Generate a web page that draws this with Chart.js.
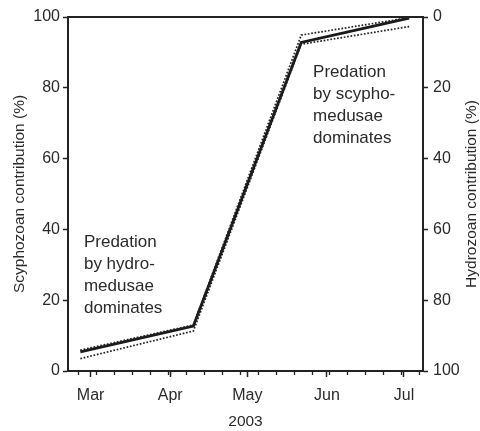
<!DOCTYPE html>
<html>
<head>
<meta charset="utf-8">
<script src="https://cdn.jsdelivr.net/npm/chart.js@4.4.1/dist/chart.umd.min.js"></script>
<style>
  html, body { margin: 0; padding: 0; background: #fff; }
  canvas { display: block; }
</style>
</head>
<body>
<canvas id="contribChart" width="480" height="431"></canvas>
<script>
// Day-of-year (2003, Jan 1 = 0) for month starts and their labels
const months = ['Mar', 'Apr', 'May', 'Jun', 'Jul'];
const monthDays = [59, 90, 120, 151, 181];
// Weekly minor ticks along the time axis
const weekDays = [54, 61, 68, 75, 82, 89, 96, 103, 110, 117, 124, 131, 138, 145, 152, 159, 166, 173, 180, 187];

// Sampling dates and scyphozoan contribution (%)
const sampleDays = [55, 99, 141, 183];
const scyphoMean = [5.4, 12.7, 92.8, 99.7];
const scyphoUpper = [5.9, 13.0, 94.9, 99.8];
const scyphoLower = [3.5, 11.3, 92.3, 97.3];

const yTicks = [0, 20, 40, 60, 80, 100];

const hydroNote = ['Predation', 'by hydro-', 'medusae', 'dominates'];
const scyphoNote = ['Predation', 'by scypho-', 'medusae', 'dominates'];

const FONT = "'Liberation Sans', Arial, Helvetica, sans-serif";
const INK = '#222';
const TEXT = '#2a2a2a';

Chart.defaults.font.family = FONT;
Chart.defaults.font.size = 16;
Chart.defaults.color = TEXT;

function toPoints(values) {
    return sampleDays.map((d, i) => ({ x: d, y: values[i] }));
}

// Frame top edge, weekly ticks, right-hand title and the two notes
const decorations = {
    id: 'decorations',
    afterDraw(chart) {
        const { ctx, chartArea, scales } = chart;
        const x = scales.x;
        const y = scales.y;
        ctx.save();

        ctx.strokeStyle = INK;
        ctx.lineWidth = 2;
        ctx.beginPath();
        ctx.moveTo(chartArea.left - 1, chartArea.top);
        ctx.lineTo(chartArea.right + 1, chartArea.top);
        ctx.stroke();

        ctx.lineWidth = 1.3;
        weekDays.forEach(d => {
            const px = Math.round(x.getPixelForValue(d)) + 0.5;
            ctx.beginPath();
            ctx.moveTo(px, chartArea.bottom);
            ctx.lineTo(px, chartArea.bottom + 4);
            ctx.stroke();
        });

        ctx.fillStyle = TEXT;
        ctx.font = '15.5px ' + FONT;
        ctx.textAlign = 'center';
        ctx.textBaseline = 'middle';
        ctx.translate(472, (chartArea.top + chartArea.bottom) / 2);
        ctx.rotate(-Math.PI / 2);
        ctx.fillText('Hydrozoan contribution (%)', 0, 0);
        ctx.setTransform(1, 0, 0, 1, 0, 0);

        ctx.font = '17px ' + FONT;
        ctx.textAlign = 'left';
        const drawNote = (lines, dx, dy) => {
            const left = x.getPixelForValue(dx);
            const top = y.getPixelForValue(dy);
            lines.forEach((t, i) => ctx.fillText(t, left, top + i * 22));
        };
        drawNote(hydroNote, 56.4, 36.4);
        drawNote(scyphoNote, 145.6, 84.3);

        ctx.restore();
    }
};

const ctx = document.getElementById('contribChart').getContext('2d');

new Chart(ctx, {
    type: 'line',
    data: {
        datasets: [
            {
                data: toPoints(scyphoUpper),
                borderColor: INK,
                borderWidth: 1.7,
                borderDash: [1.7, 1.7],
                pointRadius: 0,
                tension: 0
            },
            {
                data: toPoints(scyphoLower),
                borderColor: INK,
                borderWidth: 1.7,
                borderDash: [1.7, 1.7],
                pointRadius: 0,
                tension: 0
            },
            {
                data: toPoints(scyphoMean),
                borderColor: '#1a1a1a',
                borderWidth: 2.8,
                pointRadius: 0,
                tension: 0
            }
        ]
    },
    options: {
        responsive: false,
        animation: false,
        layout: { padding: { top: 17, left: 0, right: 0, bottom: 0 } },
        plugins: {
            legend: { display: false },
            tooltip: { enabled: false }
        },
        scales: {
            x: {
                type: 'linear',
                min: 50.2,
                max: 188.4,
                afterBuildTicks: scale => {
                    scale.ticks = monthDays.map(v => ({ value: v }));
                },
                afterFit: scale => { scale.height = 60; },
                ticks: {
                    autoSkip: false,
                    maxRotation: 0,
                    padding: 9,
                    callback: (value, index) => months[index]
                },
                grid: {
                    drawOnChartArea: false,
                    tickLength: 6,
                    tickWidth: 1.5,
                    tickColor: INK
                },
                border: { width: 2, color: INK },
                title: {
                    display: true,
                    text: '2003',
                    font: { size: 15.5 },
                    padding: { top: 0, bottom: 0 }
                }
            },
            y: {
                position: 'left',
                min: 0,
                max: 100,
                afterBuildTicks: scale => {
                    scale.ticks = yTicks.map(v => ({ value: v }));
                },
                afterFit: scale => { scale.width = 68; },
                ticks: { padding: 3 },
                grid: {
                    drawOnChartArea: false,
                    tickLength: 5,
                    tickWidth: 1.5,
                    tickColor: INK
                },
                border: { width: 2, color: INK },
                title: {
                    display: true,
                    text: 'Scyphozoan contribution (%)',
                    font: { size: 15.5 },
                    padding: { top: 10, bottom: 0 }
                }
            },
            y2: {
                position: 'right',
                reverse: true,
                min: 0,
                max: 100,
                afterBuildTicks: scale => {
                    scale.ticks = yTicks.map(v => ({ value: v }));
                },
                afterFit: scale => { scale.width = 57; },
                ticks: { padding: 5 },
                grid: {
                    drawOnChartArea: false,
                    tickLength: 5,
                    tickWidth: 1.5,
                    tickColor: INK
                },
                border: { width: 2, color: INK }
            }
        }
    },
    plugins: [decorations]
});
</script>
</body>
</html>
